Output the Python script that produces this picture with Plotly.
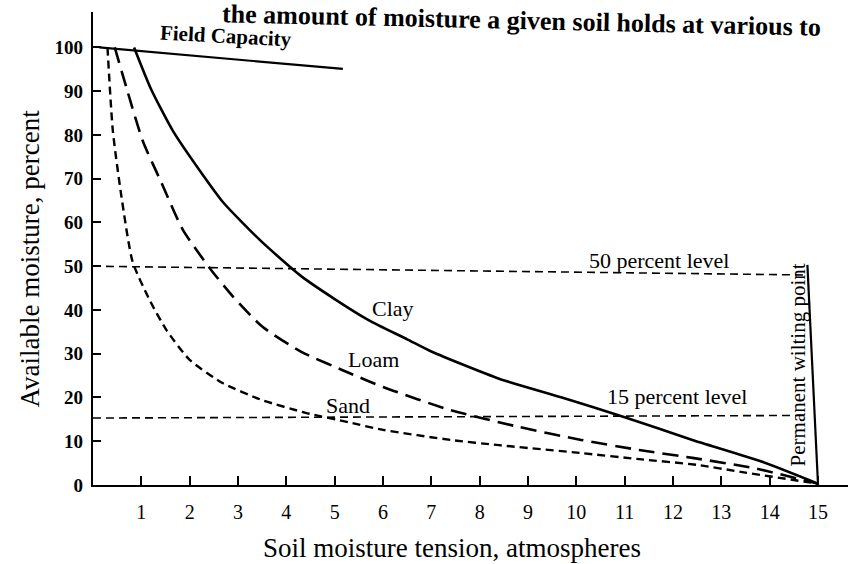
import plotly.graph_objects as go

# ---- data ----
tension_ticks = list(range(1, 16))
moisture_ticks = list(range(0, 101, 10))

clay_x = [0.85, 1.2, 1.65, 2.2, 2.7, 3.5, 4.3, 5.0, 5.7, 6.5, 7.0, 8.4, 9.7, 11.0, 12.4, 13.8, 15.0]
clay_y = [100, 90.5, 81, 72, 64.5, 55.5, 47.8, 42.5, 37.7, 33.3, 30.5, 24.3, 20.0, 15.5, 10.3, 5.5, 0.3]

loam_x = [0.45, 0.7, 1.03, 1.42, 1.86, 2.42, 2.9, 3.5, 4.3, 5.3, 6.0, 7.4, 8.8, 10.1, 11.3, 12.4, 13.7, 15.0]
loam_y = [100, 90.5, 78.6, 69, 58.3, 49.5, 43, 36.2, 30.5, 25.6, 22.4, 17.1, 13.3, 10.3, 8.0, 6.2, 3.8, 0.3]

sand_x = [0.3, 0.41, 0.59, 0.82, 1.17, 1.52, 2.0, 2.68, 3.5, 4.4, 5.3, 6.0, 7.4, 8.4, 10.1, 11.3, 12.5, 13.4, 15.0]
sand_y = [100, 81, 65.8, 51, 42.3, 35.4, 28.6, 23.3, 19.4, 16.5, 14.3, 12.6, 10.3, 9.1, 7.3, 5.9, 4.6, 3.0, 0.3]

field_capacity_x = [0.13, 5.17]
field_capacity_y = [100, 95.1]

level50_x = [0, 14.73]
level50_y = [50, 48]

level15_x = [0, 14.73]
level15_y = [15.3, 15.9]

wilting_x = [14.78, 15.0]
wilting_y = [50.3, 0]

SERIF = "Liberation Serif, Times New Roman, serif"

fig = go.Figure()

def line(x, y, width=2.2, dash="solid", name=""):
    fig.add_trace(go.Scatter(x=x, y=y, mode="lines", name=name,
                             line=dict(color="black", width=width, dash=dash, shape="spline", smoothing=0.6),
                             hoverinfo="skip", showlegend=False))

line(level50_x, level50_y, width=1.6, dash="8px,5px", name="50 percent level")
line(level15_x, level15_y, width=1.6, dash="8px,5px", name="15 percent level")
line(field_capacity_x, field_capacity_y, width=2.2, name="Field Capacity")
line(wilting_x, wilting_y, width=2.2, name="Permanent wilting point")
line(clay_x, clay_y, width=2.6, name="Clay")
line(loam_x, loam_y, width=2.6, dash="16px,8px", name="Loam")
line(sand_x, sand_y, width=2.4, dash="8px,5px", name="Sand")

ann = []
def label(text, x, y, size=22, angle=0, bold=False):
    ann.append(dict(text=text, x=x, y=y, xref="x", yref="y", showarrow=False,
                    xanchor="center", yanchor="middle",
                    textangle=angle, font=dict(family=SERIF, size=size, color="black",
                                               weight="bold" if bold else "normal")))

label("Clay", 6.2, 40.4)
label("Loam", 5.8, 28.6)
label("Sand", 5.27, 18.1)
label("50 percent level", 11.73, 51.4)
label("15 percent level", 12.1, 20.3)
label("Field Capacity", 2.76, 102.6, size=21, angle=3, bold=True)
label("Permanent wilting point", 14.58, 27.5, size=21, angle=-90)

# axis titles and page text
ann.append(dict(text="Available moisture, percent", xref="paper", yref="paper",
                x=(31 - 93.5) / 754.5, y=(485 - 258) / 473, showarrow=False, textangle=-90,
                xanchor="center", yanchor="middle",
                font=dict(family=SERIF, size=27, color="black")))
ann.append(dict(text="Soil moisture tension, atmospheres", xref="paper", yref="paper",
                x=(452 - 93.5) / 754.5, y=(485 - 548) / 473, showarrow=False,
                xanchor="center", yanchor="middle",
                font=dict(family=SERIF, size=27, color="black")))
ann.append(dict(text="<b>the amount of moisture a given soil holds at various to</b>", xref="paper", yref="paper",
                x=(522 - 93.5) / 754.5, y=(485 - 21) / 473, showarrow=False, textangle=1.3,
                xanchor="center", yanchor="middle",
                font=dict(family=SERIF, size=26, color="black")))

fig.update_layout(
    width=848, height=564,
    margin=dict(l=93, r=0, t=12, b=79),
    paper_bgcolor="white", plot_bgcolor="white",
    annotations=ann,
    xaxis=dict(range=[0, 15.62], showline=True, linecolor="black", linewidth=2.2,
               ticks="inside", ticklen=9, tickwidth=2, tickcolor="black",
               tickvals=tension_ticks, ticktext=[str(t) for t in tension_ticks],
               tickfont=dict(family=SERIF, size=20, color="black"),
               ticklabelstandoff=8,
               showgrid=False, zeroline=False),
    yaxis=dict(range=[0, 108.1], showline=True, linecolor="black", linewidth=2.2,
               ticks="inside", ticklen=8, tickwidth=2, tickcolor="black",
               tickvals=moisture_ticks, ticktext=[str(t) for t in moisture_ticks],
               tickfont=dict(family=SERIF, size=19, color="black", weight="bold"),
               ticklabelstandoff=4,
               showgrid=False, zeroline=False),
)

fig.write_html("out.html", config={"displayModeBar": False},
               post_script="document.body.style.margin='0';document.body.style.overflow='hidden';")
